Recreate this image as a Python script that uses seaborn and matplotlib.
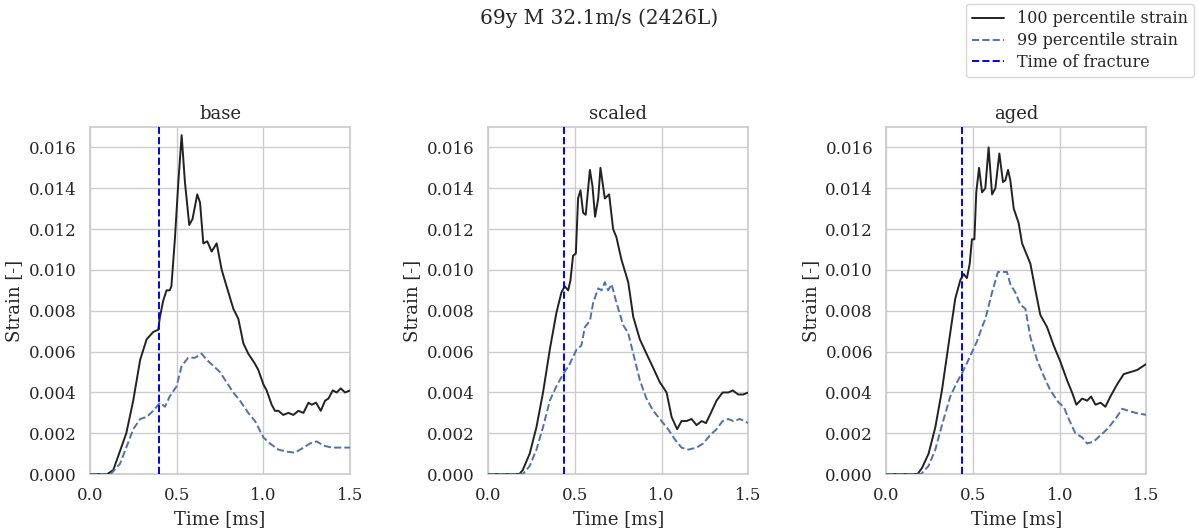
import numpy as np
import pandas as pd
import matplotlib
matplotlib.use("Agg")
import matplotlib.pyplot as plt
import seaborn as sns

# ---------------- data ----------------
panel_titles = ["base", "scaled", "aged"]
fracture_times = [0.40, 0.435, 0.435]

base_t100 = [0.0, 0.10, 0.135, 0.21, 0.25, 0.29, 0.327, 0.365, 0.394, 0.404, 0.423, 0.442, 0.46, 0.47,
             0.49, 0.51, 0.529, 0.548, 0.573, 0.592, 0.619, 0.635, 0.654, 0.677, 0.702, 0.731, 0.76,
             0.788, 0.827, 0.856, 0.885, 0.913, 0.952, 0.971, 1.0, 1.019, 1.048, 1.067, 1.087, 1.115,
             1.144, 1.173, 1.202, 1.231, 1.26, 1.279, 1.304, 1.331, 1.356, 1.375, 1.4, 1.423, 1.446,
             1.471, 1.5]
base_v100 = [0.0, 0.0, 0.0002, 0.0020, 0.0036, 0.0056, 0.0066, 0.00696, 0.00707, 0.0077, 0.0085, 0.0090,
             0.0090, 0.0092, 0.0115, 0.0143, 0.0166, 0.0143, 0.0122, 0.0125, 0.0137, 0.0133, 0.0113,
             0.0114, 0.0109, 0.0113, 0.0100, 0.0092, 0.0081, 0.0076, 0.0064, 0.0059, 0.0054, 0.0051,
             0.0044, 0.0041, 0.0034, 0.0031, 0.0031, 0.0029, 0.0030, 0.0029, 0.0031, 0.0030, 0.0035,
             0.0034, 0.0035, 0.0031, 0.0036, 0.0037, 0.0041, 0.0040, 0.0042, 0.0040, 0.0041]
base_t99 = [0.0, 0.12, 0.173, 0.21, 0.25, 0.29, 0.327, 0.365, 0.404, 0.433, 0.46, 0.5, 0.529, 0.567,
            0.606, 0.644, 0.673, 0.712, 0.75, 0.788, 0.827, 0.865, 0.913, 0.952, 1.0, 1.038, 1.087,
            1.135, 1.183, 1.231, 1.269, 1.308, 1.346, 1.394, 1.442, 1.5]
base_v99 = [0.0, 0.0, 0.0005, 0.0013, 0.0022, 0.0027, 0.0028, 0.0031, 0.0035, 0.0033, 0.0038, 0.0043,
            0.0053, 0.0057, 0.0057, 0.0059, 0.0056, 0.0053, 0.0050, 0.0045, 0.0040, 0.0036, 0.0030,
            0.0026, 0.0018, 0.0015, 0.0012, 0.0011, 0.00105, 0.0013, 0.0015, 0.0016, 0.0014, 0.0013,
            0.0013, 0.0013]

scaled_t100 = [0.0, 0.18, 0.2, 0.24, 0.279, 0.317, 0.356, 0.394, 0.423, 0.442, 0.462, 0.475, 0.49, 0.506,
               0.519, 0.533, 0.548, 0.563, 0.587, 0.602, 0.617, 0.635, 0.648, 0.663, 0.673, 0.698, 0.721,
               0.74, 0.769, 0.808, 0.837, 0.875, 0.913, 0.952, 0.99, 1.029, 1.058, 1.09, 1.115, 1.144,
               1.173, 1.202, 1.231, 1.256, 1.279, 1.317, 1.352, 1.385, 1.41, 1.442, 1.471, 1.5]
scaled_v100 = [0.0, 0.0, 0.0002, 0.0010, 0.0023, 0.0040, 0.0061, 0.0079, 0.0089, 0.0092, 0.0090, 0.0095,
               0.0107, 0.0108, 0.0135, 0.0139, 0.0128, 0.0127, 0.0149, 0.0141, 0.0126, 0.0135, 0.0150,
               0.0141, 0.0135, 0.0137, 0.0120, 0.0116, 0.0105, 0.0094, 0.0077, 0.0066, 0.0059, 0.0052,
               0.0045, 0.0040, 0.0028, 0.0022, 0.0026, 0.0026, 0.0027, 0.0024, 0.0026, 0.0025, 0.0029,
               0.0036, 0.0040, 0.0040, 0.0041, 0.0039, 0.0039, 0.0040]
scaled_t99 = [0.0, 0.2, 0.24, 0.279, 0.317, 0.356, 0.394, 0.433, 0.471, 0.51, 0.538, 0.558, 0.587, 0.606,
              0.635, 0.654, 0.673, 0.692, 0.712, 0.74, 0.779, 0.808, 0.837, 0.875, 0.913, 0.952, 1.0,
              1.038, 1.077, 1.115, 1.154, 1.202, 1.24, 1.279, 1.317, 1.352, 1.385, 1.413, 1.452, 1.5]
scaled_v99 = [0.0, 0.0, 0.0004, 0.0012, 0.0023, 0.0036, 0.0043, 0.0049, 0.0054, 0.0061, 0.0063, 0.0072,
              0.0075, 0.0084, 0.0091, 0.0090, 0.0094, 0.0090, 0.0093, 0.0084, 0.0073, 0.0069, 0.0059,
              0.0046, 0.0037, 0.0031, 0.0026, 0.0022, 0.0017, 0.0013, 0.0012, 0.0013, 0.0015, 0.0019,
              0.0022, 0.0026, 0.0027, 0.0026, 0.0027, 0.0025]

aged_t100 = [0.0, 0.18, 0.206, 0.244, 0.283, 0.321, 0.36, 0.398, 0.427, 0.446, 0.465, 0.481, 0.494, 0.508,
             0.519, 0.535, 0.552, 0.571, 0.59, 0.61, 0.629, 0.652, 0.673, 0.687, 0.702, 0.715, 0.735,
             0.763, 0.783, 0.812, 0.831, 0.86, 0.888, 0.927, 0.965, 1.004, 1.042, 1.071, 1.096, 1.129,
             1.158, 1.181, 1.206, 1.235, 1.263, 1.292, 1.331, 1.369, 1.408, 1.446, 1.5]
aged_v100 = [0.0, 0.0, 0.0003, 0.0010, 0.0023, 0.0041, 0.0064, 0.0086, 0.0095, 0.0098, 0.0096, 0.0103,
             0.0115, 0.0115, 0.0138, 0.0150, 0.0138, 0.0140, 0.0160, 0.0137, 0.0140, 0.0157, 0.0143,
             0.0144, 0.0149, 0.0144, 0.0130, 0.0123, 0.0113, 0.0107, 0.0103, 0.0090, 0.0078, 0.0072,
             0.0063, 0.0055, 0.0046, 0.0040, 0.0034, 0.0037, 0.0036, 0.0038, 0.0034, 0.0035, 0.0033,
             0.0038, 0.0044, 0.0049, 0.0050, 0.0051, 0.0054]
aged_t99 = [0.0, 0.2, 0.244, 0.283, 0.321, 0.369, 0.408, 0.446, 0.485, 0.523, 0.552, 0.571, 0.61, 0.644,
            0.667, 0.696, 0.715, 0.744, 0.773, 0.802, 0.831, 0.869, 0.908, 0.946, 0.994, 1.023, 1.052,
            1.09, 1.129, 1.158, 1.196, 1.235, 1.273, 1.321, 1.36, 1.398, 1.437, 1.5]
aged_v99 = [0.0, 0.0, 0.0004, 0.0012, 0.0024, 0.0038, 0.0045, 0.0051, 0.0058, 0.0065, 0.0072, 0.0076,
            0.0089, 0.0099, 0.0099, 0.0099, 0.0093, 0.0089, 0.0083, 0.0081, 0.0067, 0.0056, 0.0048,
            0.0041, 0.0035, 0.0033, 0.0027, 0.0020, 0.0018, 0.0015, 0.0016, 0.0019, 0.0022, 0.0027,
            0.0032, 0.0031, 0.0030, 0.0029]

series = [
    (base_t100, base_v100, base_t99, base_v99),
    (scaled_t100, scaled_v100, scaled_t99, scaled_v99),
    (aged_t100, aged_v100, aged_t99, aged_v99),
]

# ---------------- style ----------------
sns.set_theme(style="whitegrid")
plt.rcParams["font.family"] = ["DejaVu Serif"]

fig, axes = plt.subplots(1, 3, figsize=(11.98, 5.28), dpi=100)
fig.subplots_adjust(left=0.075, right=0.957, top=0.7595, bottom=0.102, wspace=0.53)

for ax, title, ft, (t1, v1, t2, v2) in zip(axes, panel_titles, fracture_times, series):
    sns.lineplot(x=t1, y=v1, ax=ax, color="#222222", linewidth=1.4, zorder=3,
                 label="100 percentile strain", sort=False, estimator=None)
    sns.lineplot(x=t2, y=v2, ax=ax, color="#4c72b0", linewidth=1.4, linestyle="--", zorder=3,
                 label="99 percentile strain", sort=False, estimator=None)
    ax.axvline(ft, color="blue", linestyle="--", linewidth=1.4, label="Time of fracture", zorder=3)
    ax.set_xlim(0, 1.5)
    ax.set_ylim(0, 0.017)
    ax.set_xticks([0.0, 0.5, 1.0, 1.5])
    ax.set_yticks(np.arange(0, 0.0161, 0.002))
    ax.yaxis.set_major_formatter(matplotlib.ticker.FormatStrFormatter("%.3f"))
    ax.set_title(title, fontsize=13)
    ax.set_xlabel("Time [ms]", fontsize=13)
    ax.set_ylabel("Strain [-]", fontsize=13)
    ax.tick_params(labelsize=12)
    leg = ax.get_legend()
    if leg is not None:
        leg.remove()

handles, labels = axes[0].get_legend_handles_labels()
fig.legend(handles, labels, loc="upper right", bbox_to_anchor=(1.0, 1.0),
           fontsize=11.5, frameon=True, borderaxespad=0.25, labelspacing=0.3)
fig.suptitle("69y M 32.1m/s (2426L)", fontsize=14.5, y=0.985)

fig.savefig("out.png", dpi=100)
